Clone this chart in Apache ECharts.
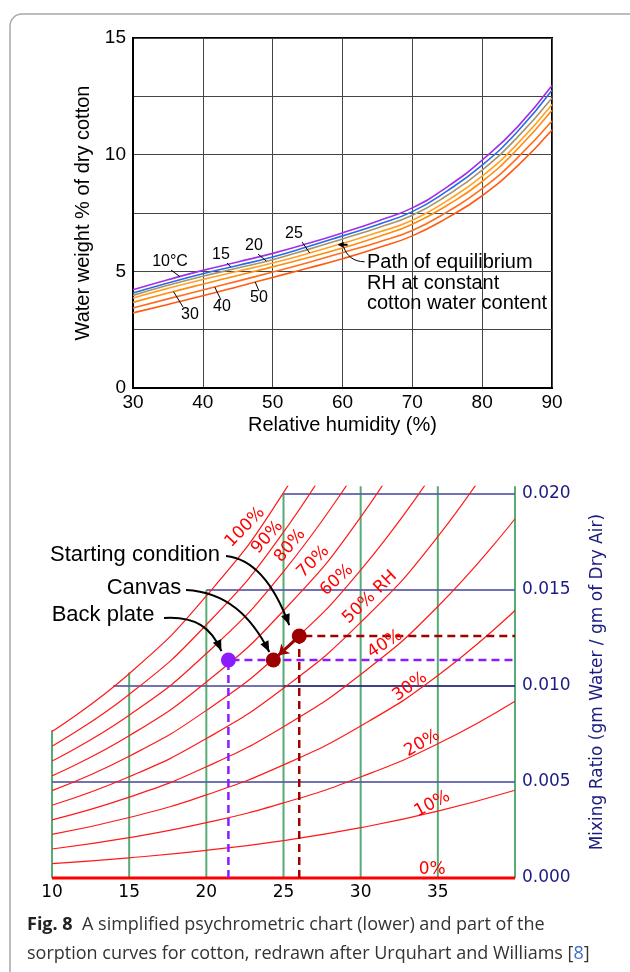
<!DOCTYPE html>
<html>
<head>
<meta charset="utf-8">
<script src="https://cdn.jsdelivr.net/npm/echarts@6/dist/echarts.min.js"></script>
<style>
html,body{margin:0;padding:0;background:#fff;}
#main{width:630px;height:972px;}
</style>
</head>
<body>
<div id="main"></div>
<script>
// ---- upper chart: sorption curves for cotton ----
var rhTop = [30,35,40,45,50,55,60,65,70,75,80,85,90];
var cot10 = [4.21,4.64,5.04,5.40,5.77,6.19,6.65,7.15,7.72,8.62,9.77,11.17,12.96];
var cot15 = [4.07,4.50,4.90,5.25,5.61,6.05,6.52,7.00,7.56,8.45,9.55,10.97,12.76];
var cot20 = [3.97,4.40,4.79,5.14,5.50,5.93,6.39,6.86,7.40,8.26,9.34,10.73,12.43];
var cot25 = [3.86,4.27,4.65,5.00,5.36,5.76,6.20,6.66,7.19,8.03,9.08,10.45,12.15];
var cot30 = [3.67,4.07,4.45,4.82,5.19,5.58,6.00,6.47,7.02,7.83,8.85,10.22,11.90];
var cot40 = [3.43,3.82,4.20,4.58,4.97,5.37,5.80,6.24,6.75,7.55,8.54,9.85,11.44];
var cot50 = [3.22,3.58,3.95,4.34,4.74,5.13,5.54,6.00,6.52,7.29,8.24,9.50,11.06];
var cotSets = [cot10,cot15,cot20,cot25,cot30,cot40,cot50];
var cotColors = ['#a030e8','#2a6ae8','#a89468','#ffa126','#ff8a10','#ff6c1c','#ff5a14'];

// ---- lower chart: psychrometric chart ----
var tempPts = [10,15,20,25,30,35,40];
var rh10  = [0.00075,0.00105,0.00144,0.00195,0.00262,0.00348,0.00457];
var rh20  = [0.00151,0.00210,0.00288,0.00391,0.00526,0.00699,0.00921];
var rh30  = [0.00227,0.00315,0.00433,0.00589,0.00792,0.01055,0.01393];
var rh40  = [0.00303,0.00421,0.00579,0.00788,0.01060,0.01414,0.01871];
var rh50  = [0.00379,0.00527,0.00726,0.00988,0.01331,0.01778,0.02356];
var rh60  = [0.00455,0.00634,0.00873,0.01189,0.01604,0.02145];
var rh70  = [0.00532,0.00741,0.01021,0.01392,0.01879,0.02518];
var rh80  = [0.00609,0.00848,0.01169,0.01596,0.02157];
var rh90  = [0.00686,0.00956,0.01319,0.01801,0.02437];
var rh100 = [0.00763,0.01064,0.01469,0.02007,0.02720];
var rhSets = [rh10,rh20,rh30,rh40,rh50,rh60,rh70,rh80,rh90,rh100];

var rhText  = ['100%','90%','80%','70%','60%','50% RH','40%','30%','20%','10%','0%'];
var rhTextT = [22.51,23.95,25.42,26.93,28.45,30.6,31.58,33.2,33.99,34.64,34.64];
var rhTextW = [0.01827,0.01774,0.01731,0.01647,0.01552,0.01462,0.01219,0.00996,0.00702,0.00385,0.00042];
var rhTextRot = [46,48,50,45,42,44,33,35,30,28,0];

var gridTemps = [10,15,20,25,30,35,40];
var gridTempTop = [0.0077,0.0107,0.0150,0.0200,0.0204,0.0204,0.0204];
var mixLevels = [0.005,0.010,0.015,0.020];
var mixStart = [10,13.97,20.0,25.0];

var backPlate = [21.43,0.01135];
var canvasPt = [24.34,0.01135];
var startPt = [26.02,0.0126];

var chart = echarts.init(document.getElementById('main'));
var series = [];

// cotton curves
cotSets.forEach(function(vals, i){
    series.push({
        type:'line', xAxisIndex:0, yAxisIndex:0, symbol:'none', smooth:0.5,
        lineStyle:{color:cotColors[i], width:1.6}, silent:true, z:5,
        data: rhTop.map(function(r, j){ return [r, vals[j]]; })
    });
});

// green temperature lines
gridTemps.forEach(function(t, i){
    series.push({
        type:'line', xAxisIndex:1, yAxisIndex:1, symbol:'none', silent:true, z:1,
        lineStyle:{color:'#3a9d5d', width:2, opacity:0.85},
        data:[[t,0],[t,gridTempTop[i]]]
    });
});
// blue mixing ratio lines
mixLevels.forEach(function(m, i){
    series.push({
        type:'line', xAxisIndex:1, yAxisIndex:1, symbol:'none', silent:true, z:1,
        lineStyle:{color:'#5a5aa6', width:2, opacity:0.85},
        data:[[mixStart[i],m],[40,m]]
    });
});
series.push({
    type:'line', xAxisIndex:1, yAxisIndex:1, symbol:'none', silent:true, z:2,
    lineStyle:{color:'#10105a', width:1.2},
    data:[[25,0.010],[40,0.010]]
});
// RH curves
rhSets.forEach(function(vals){
    series.push({
        type:'line', xAxisIndex:1, yAxisIndex:1, symbol:'none', smooth:0.5,
        silent:true, z:3, lineStyle:{color:'#ff1a1a', width:1.2},
        data: vals.map(function(v, j){ return [tempPts[j], v]; })
    });
});
// 0% RH
series.push({
    type:'line', xAxisIndex:1, yAxisIndex:1, symbol:'none', silent:true, z:4, clip:false,
    lineStyle:{color:'#ff0000', width:3},
    data:[[10,0],[40,0]]
});
// dashed guide lines
series.push({
    type:'line', xAxisIndex:1, yAxisIndex:1, symbol:'none', silent:true, z:6,
    lineStyle:{color:'#8a1cff', width:2.5, type:[8,5]},
    data:[[backPlate[0],0],[backPlate[0],backPlate[1]],[40,backPlate[1]]]
});
series.push({
    type:'line', xAxisIndex:1, yAxisIndex:1, symbol:'none', silent:true, z:6,
    lineStyle:{color:'#a00000', width:2.5, type:[8,5]},
    data:[[startPt[0],0],[startPt[0],startPt[1]],[40,startPt[1]]]
});
// short arrow start -> canvas
series.push({
    type:'lines', coordinateSystem:'cartesian2d', xAxisIndex:1, yAxisIndex:1, silent:true, z:7,
    symbol:['none','arrow'], symbolSize:10,
    lineStyle:{color:'#a00000', width:3, opacity:1},
    data:[{coords:[startPt,[24.68,0.0116]]}]
});
// points
series.push({
    type:'scatter', xAxisIndex:1, yAxisIndex:1, silent:true, z:8, symbolSize:15,
    itemStyle:{opacity:1},
    data:[
        {value:backPlate, itemStyle:{color:'#8a1cff', opacity:1}},
        {value:canvasPt, itemStyle:{color:'#9e0000', opacity:1}},
        {value:startPt, itemStyle:{color:'#9e0000', opacity:1}}
    ]
});

var option = {
    animation:false,
    backgroundColor:'#fff',
    grid:[
        {left:133, top:38, width:419, height:350, show:true, borderColor:'#000', borderWidth:2, backgroundColor:'transparent'},
        {left:52, top:486.3, width:463, height:391.7}
    ],
    xAxis:[
        {gridIndex:0, type:'value', min:30, max:90, interval:10,
         axisLine:{lineStyle:{color:'#000', width:2}}, axisTick:{show:false},
         splitLine:{lineStyle:{color:'#444', width:1}},
         axisLabel:{color:'#000', fontSize:19, fontFamily:'Liberation Sans', margin:5},
         name:'Relative humidity (%)', nameLocation:'middle', nameGap:27,
         nameTextStyle:{color:'#000', fontSize:20, fontFamily:'Liberation Sans'}},
        {gridIndex:1, type:'value', min:10, max:40, interval:5,
         axisLine:{show:false}, axisTick:{show:false}, splitLine:{show:false},
         axisLabel:{color:'#000', fontSize:17, fontFamily:'DejaVu Sans', margin:6,
            formatter:function(v){ return v === 40 ? '' : String(v); }}}
    ],
    yAxis:[
        {gridIndex:0, type:'value', min:0, max:15, interval:2.5,
         axisLine:{show:true, lineStyle:{color:'#000', width:2}}, axisTick:{show:false},
         splitLine:{lineStyle:{color:'#444', width:1}},
         axisLabel:{color:'#000', fontSize:19, fontFamily:'Liberation Sans', margin:7,
            formatter:function(v){ return v % 5 === 0 ? String(v) : ''; }},
         name:'Water weight % of dry cotton', nameLocation:'middle', nameGap:33,
         nameTextStyle:{color:'#000', fontSize:20, fontFamily:'Liberation Sans'}},
        {gridIndex:1, type:'value', position:'right', min:0, max:0.0204, interval:0.005,
         axisLine:{show:false}, axisTick:{show:false}, splitLine:{show:false},
         axisLabel:{color:'#1c1c80', fontSize:17, fontFamily:'DejaVu Sans', margin:7, showMaxLabel:false,
            formatter:function(v){
                var k = v / 0.005;
                return Math.abs(k - Math.round(k)) < 1e-6 ? v.toFixed(3) : '';
            }},
         name:'Mixing Ratio (gm Water / gm of Dry Air)', nameLocation:'middle', nameGap:74, nameRotate:90,
         nameTextStyle:{color:'#1c1c80', fontSize:17, fontFamily:'DejaVu Sans'}}
    ],
    series:series
};
chart.setOption(option);

// ---- annotations ----
function px(g, p){ return chart.convertToPixel({gridIndex:g}, p); }
function interp(xs, ys, x){
    for (var i = 0; i < xs.length - 1; i++){
        if (x >= xs[i] && x <= xs[i+1]){
            var f = (x - xs[i]) / (xs[i+1] - xs[i]);
            return ys[i] + f * (ys[i+1] - ys[i]);
        }
    }
    return ys[ys.length-1];
}
function head(tip, from, len, half, color){
    var dx = tip[0]-from[0], dy = tip[1]-from[1];
    var d = Math.sqrt(dx*dx+dy*dy); dx/=d; dy/=d;
    var bx = tip[0]-dx*len, by = tip[1]-dy*len;
    return {type:'polygon', z:120, silent:true,
        shape:{points:[tip,[bx-dy*half, by+dx*half],[bx+dy*half, by-dx*half]]},
        style:{fill:color}};
}
function txt(s, x, y, font, color, align){
    return {type:'text', x:x, y:y, z:120, silent:true,
        style:{text:s, font:font, fill:color||'#000', align:align||'center', verticalAlign:'middle',
            textAlign:align||'center', textVerticalAlign:'middle'}};
}
function seg(a, b, w){
    return {type:'line', z:120, silent:true, shape:{x1:a[0],y1:a[1],x2:b[0],y2:b[1]},
        style:{stroke:'#000', lineWidth:w||1}};
}
function curve(p0, c1, c2, p1, w){
    return {type:'bezierCurve', z:120, silent:true,
        shape:{x1:p0[0],y1:p0[1],cpx1:c1[0],cpy1:c1[1],cpx2:c2[0],cpy2:c2[1],x2:p1[0],y2:p1[1]},
        style:{stroke:'#000', lineWidth:w||1, fill:null}};
}

var g = [];
// frame
g.push({type:'rect', z:0, silent:true, shape:{x:10, y:14, width:650, height:980, r:12},
    style:{fill:'none', stroke:'#a8a8a8', lineWidth:1.5}});

// RH curve labels
rhText.forEach(function(t, i){
    var p = px(1, [rhTextT[i], rhTextW[i]]);
    var el = txt(t, p[0], p[1], '17px "DejaVu Sans"', '#ff0000');
    el.rotation = rhTextRot[i] * Math.PI / 180;
    g.push(el);
});

// cotton curve labels
var cotLabels = [
    {t:'10°C', x:170, y:262, lx:171, ly:270, ci:0, rh:36.7},
    {t:'15',   x:221, y:255, lx:227, ly:263, ci:1, rh:44.0},
    {t:'20',   x:254, y:246, lx:258, ly:254, ci:2, rh:49.1},
    {t:'25',   x:294, y:234, lx:302, ly:242, ci:3, rh:55.3},
    {t:'30',   x:190, y:315, lx:183, ly:307, ci:4, rh:35.8},
    {t:'40',   x:222, y:307, lx:221, ly:300, ci:5, rh:41.7},
    {t:'50',   x:259, y:298, lx:259, ly:291, ci:6, rh:47.5}
];
cotLabels.forEach(function(a){
    g.push(txt(a.t, a.x, a.y, '16px "Liberation Sans"', '#000'));
    var p = px(0, [a.rh, interp(rhTop, cotSets[a.ci], a.rh)]);
    g.push(seg([a.lx, a.ly], p, 1));
});
// path of equilibrium
var tip = px(0, [59.3, interp(rhTop, cot25, 59.3)]);
g.push(seg([tip[0]+4, tip[1]], [tip[0]+10, tip[1]], 2));
g.push(head(tip, [tip[0]+10, tip[1]], 6, 3, '#000'));
g.push(curve([tip[0]+6, tip[1]+2], [tip[0]+9, tip[1]+11], [tip[0]+16, tip[1]+17], [tip[0]+27, tip[1]+17], 1));
g.push(txt('Path of equilibrium', 367, 262, '20px "Liberation Sans"', '#000', 'left'));
g.push(txt('RH at constant', 367, 283, '20px "Liberation Sans"', '#000', 'left'));
g.push(txt('cotton water content', 367, 303, '20px "Liberation Sans"', '#000', 'left'));

// lower chart annotations
var sp = px(1, startPt), cp = px(1, canvasPt), bp = px(1, backPlate);
g.push(txt('Starting condition', 135, 555, '22px "Liberation Sans"', '#000'));
g.push(txt('Canvas', 144, 588, '22px "Liberation Sans"', '#000'));
g.push(txt('Back plate', 103, 615, '22px "Liberation Sans"', '#000'));
var e1 = [sp[0]-10, sp[1]-11], c1b = [sp[0]-23, sp[1]-46];
g.push(curve([226,556],[256,559],c1b,e1,2));
g.push(head(e1, c1b, 11, 4.5, '#000'));
var e2 = [cp[0]-4, cp[1]-8], c2b = [cp[0]-22, cp[1]-44];
g.push(curve([186,590],[226,592],c2b,e2,2));
g.push(head(e2, c2b, 11, 4.5, '#000'));
var e3 = [bp[0]-7, bp[1]-9], c3b = [bp[0]-17, bp[1]-32];
g.push(curve([164,618],[196,616],c3b,e3,2));
g.push(head(e3, c3b, 11, 4.5, '#000'));

// caption
g.push({type:'text', x:27, y:910, z:120, silent:true,
    style:{text:'{b|Fig. 8}  A simplified psychrometric chart (lower) and part of the\nsorption curves for cotton, redrawn after Urquhart and Williams [{u|8}]',
        font:'18px "Open Sans"', fill:'#333', lineHeight:29,
        rich:{
            b:{fontWeight:'bold', fontSize:18, fontFamily:'Open Sans', fill:'#222', lineHeight:29},
            u:{fontSize:18, fontFamily:'Open Sans', fill:'#3b6fc4', lineHeight:29}
        }}});

chart.setOption({graphic:g});
</script>
</body>
</html>
